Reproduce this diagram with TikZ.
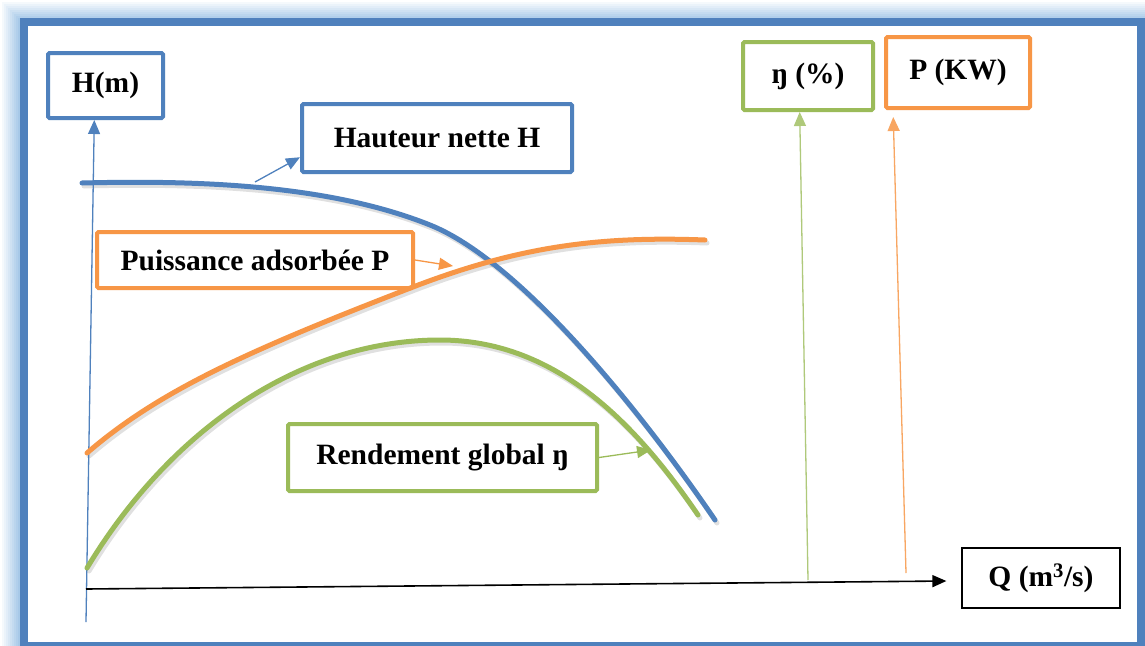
\documentclass[tikz,border=0pt]{standalone}
\usepackage{fontspec}
\setmainfont{Liberation Serif}
\usetikzlibrary{arrows.meta}
\definecolor{fblue}{HTML}{4F81BD}
\definecolor{glow}{HTML}{9DC3E6}
\definecolor{cblue}{HTML}{4F81BD}
\definecolor{corange}{HTML}{F79646}
\definecolor{cgreen}{HTML}{9BBB59}
\tikzset{
  lbox/.style={draw, line width=4pt, rounded corners=1.5pt, fill=white, inner sep=0pt,
    font=\fontsize{29.5}{34}\selectfont\bfseries},
  curve/.style={line width=5pt, line cap=round},
  shadowc/.style={line width=5pt, black, opacity=0.12, line cap=round},
  thinarrow/.style={line width=1.3pt, -{Triangle[length=14pt,width=12pt]}},
}
\begin{document}
\begin{tikzpicture}[x=1pt,y=-1pt]
\useasboundingbox (0,0) rectangle (1145,645);
% glow
\foreach \i in {0,...,9} {
  \pgfmathsetmacro{\pc}{10*\i}
  \draw[line width=2.2pt, color=glow!\pc!white] (1+2*\i,1+2*\i) rectangle (1160,660);
}
\fill[white] (24,22) rectangle (1141,646);
\draw[line width=8pt, fblue] (24,22) rectangle (1141,646);
% curve shadows
\begin{scope}[shift={(2,3)}]
\draw[shadowc] (82,183) .. controls (200,180) and (330,185) .. (430,225) .. controls (520,261) and (640,410) .. (715,520);
\draw[shadowc] (87,453) .. controls (160,390) and (250,350) .. (413,287) .. controls (520,246) and (600,236) .. (705,240);
\draw[shadowc] (87,568) .. controls (170,430) and (300,340) .. (440,340) .. controls (560,340) and (640,430) .. (698,515);
\end{scope}
% axes
\coordinate (yb) at (86,622);
\coordinate (xb) at (86,589);
\coordinate (eb) at (808,580);
\coordinate (pb) at (906,573);
% nodes
\node[lbox, draw=fblue, minimum width=115pt, minimum height=65pt] (Hm) at (105.5,85.5) {H(m)};
\node[lbox, draw=fblue, minimum width=270pt, minimum height=68pt] (haut) at (437,138) {Hauteur nette H};
\node[lbox, draw=corange, minimum width=316pt, minimum height=56pt] (puis) at (255,260) {Puissance adsorbée P};
\node[lbox, draw=cgreen, minimum width=309pt, minimum height=67pt] (rend) at (442.5,457.5) {Rendement global ŋ};
\node[lbox, draw=cgreen, minimum width=130pt, minimum height=68pt] (eta) at (808,76) {ŋ (\%)};
\node[lbox, draw=corange, minimum width=144pt, minimum height=71pt] (P) at (958,72.5) {P (KW)};
\node[lbox, draw=black, line width=1.3pt, rounded corners=0pt, minimum width=158pt, minimum height=60pt] (Q) at (1041,578) {Q (m\textsuperscript{3}/s)};
% axes arrows
\draw[thinarrow, cblue] (yb) -- (Hm.252);
\draw[thinarrow, black, line width=1.6pt] (xb) -- ([xshift=-15pt,yshift=-3pt]Q.west);
\draw[thinarrow, cgreen!80!white] (eb) -- (eta.257);
\draw[thinarrow, corange!85!white, shorten >=7pt] (pb) -- (P.210);
% curves
\draw[curve, cblue] (82,183) .. controls (200,180) and (330,185) .. (430,225) .. controls (520,261) and (640,410) .. (715,520);
\draw[curve, corange] (87,453) .. controls (160,390) and (250,350) .. (413,287) .. controls (520,246) and (600,236) .. (705,240);
\draw[curve, cgreen] (87,568) .. controls (170,430) and (300,340) .. (440,340) .. controls (560,340) and (640,430) .. (698,515);
% label pointers
\coordinate (hc) at (255,182);
\coordinate (pt) at (453,266);
\coordinate (gt) at (651,450);
\draw[thinarrow, cblue] (hc) -- (haut.188);
\draw[thinarrow, corange] (puis.east) -- (pt);
\draw[thinarrow, cgreen] (rend.east) -- (gt);
\end{tikzpicture}
\end{document}
